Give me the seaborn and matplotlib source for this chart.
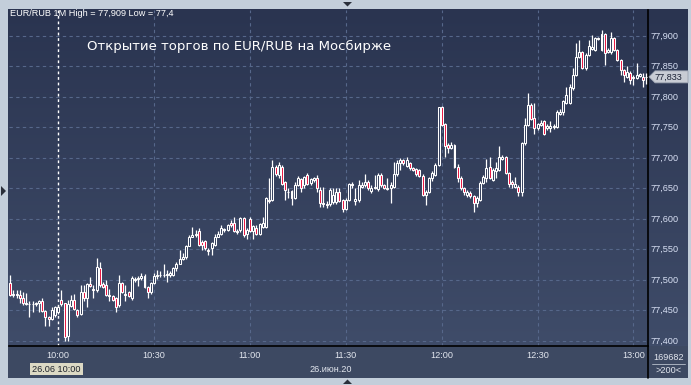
import numpy as np
import matplotlib
matplotlib.use("Agg")
import matplotlib.pyplot as plt
import matplotlib.transforms as mtransforms
from matplotlib.colors import LinearSegmentedColormap
from matplotlib.patches import Polygon, Rectangle
import seaborn as sns

sns.set_theme(style="dark")
plt.rcParams['font.family'] = ['Liberation Sans', 'DejaVu Sans']

# ---------------- data ----------------
symbol = "EUR/RUB"
interval = "1M"
title = "Открытие торгов по EUR/RUB на Мосбирже"
date_label = "26.июн.20"
cursor_label = "26.06 10:00"
volume_label = "169682"
count_label = ">200<"
start_hour, start_minute = 9, 45

opens = [
    77.495, 77.476, 77.477, 77.476, 77.470, 77.462, 77.461, 77.460, 77.461, 77.462,
    77.466, 77.449, 77.440, 77.436, 77.443, 77.447, 77.468, 77.462, 77.408, 77.458,
    77.468, 77.451, 77.445, 77.481, 77.470, 77.494, 77.486, 77.484, 77.519, 77.494,
    77.492, 77.476, 77.473, 77.470, 77.459, 77.495, 77.475, 77.480, 77.470, 77.500,
    77.501, 77.503, 77.507, 77.489, 77.480, 77.495, 77.506, 77.508, 77.508, 77.509,
    77.509, 77.509, 77.519, 77.527, 77.535, 77.538, 77.555, 77.571, 77.573, 77.580,
    77.563, 77.564, 77.549, 77.552, 77.558, 77.571, 77.576, 77.582, 77.582, 77.594,
    77.594, 77.581, 77.582, 77.602, 77.575, 77.600, 77.580, 77.586, 77.576, 77.587,
    77.587, 77.631, 77.631, 77.686, 77.672, 77.686, 77.661, 77.645, 77.646, 77.634,
    77.656, 77.666, 77.656, 77.672, 77.659, 77.664, 77.667, 77.648, 77.627, 77.624,
    77.624, 77.628, 77.628, 77.645, 77.631, 77.617, 77.631, 77.656, 77.630, 77.631,
    77.653, 77.655, 77.661, 77.646, 77.651, 77.649, 77.672, 77.655, 77.649, 77.651,
    77.653, 77.673, 77.691, 77.697, 77.687, 77.691, 77.684, 77.682, 77.680, 77.671,
    77.639, 77.645, 77.667, 77.672, 77.689, 77.783, 77.755, 77.721, 77.717, 77.721,
    77.686, 77.667, 77.650, 77.640, 77.643, 77.637, 77.626, 77.631, 77.659, 77.667,
    77.686, 77.664, 77.678, 77.680, 77.699, 77.702, 77.675, 77.661, 77.653, 77.653,
    77.645, 77.724, 77.754, 77.787, 77.765, 77.749, 77.754, 77.761, 77.749, 77.749,
    77.750, 77.751, 77.772, 77.776, 77.790, 77.790, 77.814, 77.836, 77.866, 77.874,
    77.848, 77.869, 77.879, 77.877, 77.895, 77.877, 77.903, 77.874, 77.873, 77.896,
    77.877, 77.861, 77.844, 77.833, 77.839, 77.833, 77.831, 77.835, 77.833, 77.832,
]
closes = [
    77.476, 77.477, 77.476, 77.470, 77.462, 77.461, 77.460, 77.461, 77.462, 77.465,
    77.449, 77.440, 77.436, 77.450, 77.456, 77.456, 77.460, 77.407, 77.460, 77.467,
    77.452, 77.443, 77.480, 77.470, 77.494, 77.490, 77.484, 77.522, 77.492, 77.489,
    77.476, 77.473, 77.468, 77.456, 77.495, 77.480, 77.477, 77.474, 77.503, 77.502,
    77.503, 77.507, 77.489, 77.480, 77.495, 77.506, 77.508, 77.509, 77.509, 77.509,
    77.511, 77.519, 77.527, 77.535, 77.538, 77.555, 77.571, 77.573, 77.575, 77.558,
    77.557, 77.553, 77.548, 77.560, 77.571, 77.576, 77.585, 77.583, 77.590, 77.590,
    77.580, 77.579, 77.602, 77.573, 77.582, 77.580, 77.588, 77.575, 77.592, 77.593,
    77.634, 77.629, 77.686, 77.673, 77.688, 77.658, 77.647, 77.644, 77.635, 77.656,
    77.667, 77.650, 77.669, 77.658, 77.666, 77.667, 77.650, 77.627, 77.624, 77.623,
    77.648, 77.639, 77.645, 77.630, 77.617, 77.631, 77.657, 77.658, 77.632, 77.655,
    77.656, 77.661, 77.651, 77.650, 77.653, 77.672, 77.655, 77.651, 77.651, 77.656,
    77.673, 77.691, 77.697, 77.691, 77.697, 77.683, 77.680, 77.673, 77.671, 77.639,
    77.645, 77.667, 77.675, 77.689, 77.783, 77.754, 77.719, 77.717, 77.721, 77.686,
    77.667, 77.650, 77.645, 77.644, 77.637, 77.626, 77.634, 77.659, 77.669, 77.683,
    77.667, 77.680, 77.683, 77.702, 77.702, 77.675, 77.658, 77.658, 77.657, 77.645,
    77.724, 77.754, 77.787, 77.764, 77.749, 77.755, 77.758, 77.740, 77.753, 77.753,
    77.753, 77.776, 77.776, 77.793, 77.803, 77.817, 77.836, 77.866, 77.874, 77.848,
    77.869, 77.884, 77.882, 77.896, 77.896, 77.903, 77.872, 77.877, 77.896, 77.877,
    77.861, 77.844, 77.836, 77.841, 77.828, 77.831, 77.836, 77.837, 77.828, 77.833,
]
highs = [
    77.508, 77.483, 77.483, 77.483, 77.481, 77.478, 77.465, 77.465, 77.464, 77.468,
    77.470, 77.450, 77.441, 77.456, 77.458, 77.459, 77.484, 77.463, 77.468, 77.476,
    77.477, 77.453, 77.492, 77.492, 77.495, 77.505, 77.492, 77.536, 77.530, 77.496,
    77.500, 77.486, 77.476, 77.472, 77.508, 77.497, 77.492, 77.482, 77.506, 77.505,
    77.506, 77.511, 77.510, 77.490, 77.497, 77.511, 77.516, 77.514, 77.526, 77.516,
    77.514, 77.522, 77.530, 77.549, 77.545, 77.557, 77.574, 77.587, 77.582, 77.585,
    77.565, 77.566, 77.552, 77.563, 77.576, 77.580, 77.590, 77.586, 77.592, 77.598,
    77.604, 77.584, 77.604, 77.604, 77.585, 77.604, 77.590, 77.590, 77.594, 77.604,
    77.636, 77.667, 77.697, 77.688, 77.694, 77.688, 77.663, 77.650, 77.648, 77.660,
    77.670, 77.667, 77.671, 77.675, 77.668, 77.669, 77.672, 77.653, 77.653, 77.630,
    77.651, 77.650, 77.650, 77.650, 77.633, 77.634, 77.659, 77.661, 77.650, 77.664,
    77.660, 77.673, 77.664, 77.655, 77.672, 77.675, 77.676, 77.657, 77.667, 77.660,
    77.694, 77.697, 77.700, 77.699, 77.701, 77.694, 77.686, 77.684, 77.682, 77.673,
    77.648, 77.669, 77.678, 77.691, 77.784, 77.785, 77.757, 77.724, 77.727, 77.723,
    77.690, 77.670, 77.652, 77.648, 77.646, 77.639, 77.637, 77.662, 77.672, 77.699,
    77.702, 77.683, 77.694, 77.719, 77.705, 77.704, 77.677, 77.664, 77.669, 77.655,
    77.727, 77.765, 77.806, 77.790, 77.790, 77.758, 77.762, 77.763, 77.755, 77.760,
    77.755, 77.779, 77.781, 77.795, 77.817, 77.822, 77.847, 77.888, 77.893, 77.876,
    77.872, 77.893, 77.902, 77.899, 77.899, 77.909, 77.905, 77.880, 77.907, 77.898,
    77.879, 77.863, 77.846, 77.850, 77.842, 77.836, 77.855, 77.840, 77.840, 77.839,
]
lows = [
    77.474, 77.472, 77.470, 77.462, 77.459, 77.459, 77.440, 77.448, 77.458, 77.448,
    77.448, 77.424, 77.424, 77.434, 77.440, 77.445, 77.458, 77.400, 77.400, 77.455,
    77.450, 77.440, 77.443, 77.466, 77.456, 77.488, 77.470, 77.480, 77.488, 77.487,
    77.474, 77.465, 77.466, 77.447, 77.456, 77.478, 77.465, 77.472, 77.467, 77.496,
    77.490, 77.500, 77.487, 77.470, 77.477, 77.494, 77.502, 77.505, 77.505, 77.497,
    77.505, 77.507, 77.515, 77.532, 77.533, 77.535, 77.555, 77.570, 77.570, 77.555,
    77.549, 77.549, 77.541, 77.541, 77.556, 77.570, 77.574, 77.578, 77.580, 77.587,
    77.578, 77.575, 77.578, 77.570, 77.567, 77.578, 77.567, 77.573, 77.573, 77.585,
    77.585, 77.626, 77.629, 77.670, 77.668, 77.655, 77.631, 77.634, 77.623, 77.632,
    77.654, 77.645, 77.650, 77.655, 77.655, 77.660, 77.645, 77.620, 77.620, 77.618,
    77.622, 77.624, 77.625, 77.628, 77.611, 77.614, 77.629, 77.650, 77.623, 77.628,
    77.650, 77.652, 77.648, 77.643, 77.649, 77.646, 77.652, 77.649, 77.647, 77.627,
    77.651, 77.670, 77.680, 77.689, 77.685, 77.681, 77.678, 77.671, 77.669, 77.637,
    77.623, 77.643, 77.662, 77.670, 77.687, 77.752, 77.702, 77.708, 77.715, 77.684,
    77.661, 77.648, 77.640, 77.636, 77.634, 77.612, 77.620, 77.629, 77.657, 77.661,
    77.665, 77.662, 77.667, 77.678, 77.697, 77.673, 77.653, 77.650, 77.650, 77.637,
    77.637, 77.722, 77.752, 77.762, 77.740, 77.746, 77.752, 77.738, 77.746, 77.743,
    77.748, 77.749, 77.770, 77.770, 77.788, 77.788, 77.812, 77.834, 77.864, 77.846,
    77.845, 77.867, 77.877, 77.875, 77.893, 77.875, 77.852, 77.872, 77.871, 77.875,
    77.859, 77.836, 77.825, 77.831, 77.822, 77.820, 77.829, 77.833, 77.817, 77.822,
]
price_ticks = [77.40, 77.45, 77.50, 77.55, 77.60, 77.65, 77.70, 77.75, 77.80, 77.85, 77.90]
time_labels = ["10:00", "10:30", "11:00", "11:30", "12:00", "12:30", "13:00"]
cursor_time = "10:00"

# ---------------- helpers ----------------
W, H = 691, 385
fig = plt.figure(figsize=(W / 100, H / 100), dpi=100)
fig.patch.set_facecolor('#c3ceda')


def rect(x0, y0, x1, y1):
    return [x0 / W, 1 - y1 / H, (x1 - x0) / W, (y1 - y0) / H]


def px(x, y):
    return (x / W, 1 - y / H)


def fmt(v, strip=False):
    s = f"{v:.3f}"
    if strip:
        s = s.rstrip('0').rstrip('.')
    return s.replace('.', ',')


# candle times -> labels
n = len(opens)
minutes = [start_hour * 60 + start_minute + i for i in range(n)]
stamps = [f"{m // 60:02d}:{m % 60:02d}" for m in minutes]
tick_idx = [stamps.index(t) for t in time_labels]
cursor_idx = stamps.index(cursor_time)

# background gradient panel (plot + price scale)
bg = fig.add_axes(rect(8, 9, 688, 346))
cmap = LinearSegmentedColormap.from_list('bg', ['#2a3450', '#3f4c69'])
bg.imshow(np.linspace(0, 1, 256).reshape(-1, 1), aspect='auto', cmap=cmap,
          extent=[0, 1, 0, 1], origin='upper')
bg.set_axis_off()

# bottom time strip
strip = fig.add_axes(rect(8, 346, 688, 378))
strip.set_facecolor('#3d4962')
strip.set_xticks([]); strip.set_yticks([])
for s in strip.spines.values():
    s.set_visible(False)

# main axes
ax = fig.add_axes(rect(9, 10, 648, 346))
ax.patch.set_alpha(0)
ax.set_xlim(-0.4, n - 0.45)
ax.set_ylim(77.3918, 77.9426)
ax.set_xticks([]); ax.set_yticks([])
for side in ['left', 'top']:
    ax.spines[side].set_visible(False)
for side in ['right', 'bottom']:
    ax.spines[side].set_color('#000000')
    ax.spines[side].set_linewidth(1.2)

grid_c = '#56678a'
for p in price_ticks:
    ax.axhline(p, color=grid_c, lw=0.8, ls=(0, (3, 3)), zorder=1)
for ti in tick_idx:
    if ti != cursor_idx:
        ax.axvline(ti, color=grid_c, lw=0.8, ls=(0, (3, 3)), zorder=1)
ax.axvline(cursor_idx, color='white', lw=1.0, ls=(0, (2, 2)), zorder=2)

# candles
o = np.array(opens); c = np.array(closes); h = np.array(highs); l = np.array(lows)
idx = np.arange(n)
up = c >= o
ax.vlines(idx, l, h, color='white', lw=0.9, zorder=3)
bottom = np.minimum(o, c)
height = np.maximum(np.abs(c - o), 0.0008)
ax.bar(idx[up], height[up], bottom=bottom[up], width=0.62, color='#323e5b',
       edgecolor='white', linewidth=0.75, zorder=4)
ax.bar(idx[~up], height[~up], bottom=bottom[~up], width=0.62, color='#e8123e',
       edgecolor='white', linewidth=0.75, zorder=4)

# price scale labels
tr_price = mtransforms.blended_transform_factory(fig.transFigure, ax.transData)
for p in price_ticks:
    fig.text(651 / W, p, fmt(p), transform=tr_price, ha='left', va='center',
             fontsize=6.6, color='#d8e0f4')

# last price marker
last = closes[-1]
yl = ax.transData.transform((0, last))[1]
ytop = H - yl
poly = Polygon([px(649, ytop), px(655, ytop - 6), px(688, ytop - 6),
                px(688, ytop + 6), px(655, ytop + 6)], closed=True,
               transform=fig.transFigure, facecolor='#c8ccd4', edgecolor='#9aa2b0',
               lw=0.6, zorder=10)
fig.add_artist(poly)
fig.text(655 / W, 1 - ytop / H, fmt(last), ha='left', va='center', fontsize=6.6,
         color='#1b2235', zorder=11)

# time labels
tr_time = mtransforms.blended_transform_factory(ax.transData, fig.transFigure)
for lab, ti in zip(time_labels, tick_idx):
    fig.text(ti, 1 - 356 / H, lab, transform=tr_time, ha='center', va='center',
             fontsize=6.6, color='#e2e6ee')
fig.text(331 / W, 1 - 369 / H, date_label, ha='center', va='center', fontsize=6.6,
         color='#e2e6ee')

# cursor date box
fig.add_artist(Rectangle(px(30, 375), 53 / W, 12 / H, transform=fig.transFigure,
                         facecolor='#dcd9c4', edgecolor='none', zorder=10))
fig.text(56.5 / W, 1 - 369 / H, cursor_label, ha='center', va='center', fontsize=6.6,
         color='#1e222a', zorder=11)

# volume / count box at bottom right
fig.text(669 / W, 1 - 357 / H, volume_label, ha='center', va='center', fontsize=6.6,
         color='#e2e6ee')
fig.add_artist(plt.Line2D([652 / W, 685 / W], [1 - 364 / H, 1 - 364 / H],
                          transform=fig.transFigure, color='#b8c0cc', lw=0.6))
fig.text(669 / W, 1 - 370.5 / H, count_label, ha='center', va='center', fontsize=6.6,
         color='#e2e6ee')
fig.add_artist(plt.Line2D([648 / W, 648 / W], [1 - 378 / H, 1 - 346 / H],
                          transform=fig.transFigure, color='#000000', lw=1.2))

# header & title
hi_s = fmt(max(highs), strip=True)
lo_s = fmt(min(lows), strip=True)
fig.text(10 / W, 1 - 14 / H, f"{symbol} {interval} High = {hi_s} Low = {lo_s}",
         ha='left', va='center', fontsize=6.6, color='#ffffff')
fig.text(87 / W, 1 - 46 / H, title, ha='left', va='center', fontsize=9.5,
         color='#ffffff', family=['DejaVu Sans'])

# frame arrows
for pts in ([px(343, 2), px(352, 2), px(347.5, 6.5)],
            [px(1, 186), px(1, 196), px(6, 191)],
            [px(343, 384), px(352, 384), px(347.5, 379.5)]):
    fig.add_artist(Polygon(pts, closed=True, transform=fig.transFigure,
                           facecolor='#2a2f3a', edgecolor='none'))

fig.savefig('out.png', dpi=100, facecolor=fig.get_facecolor())
